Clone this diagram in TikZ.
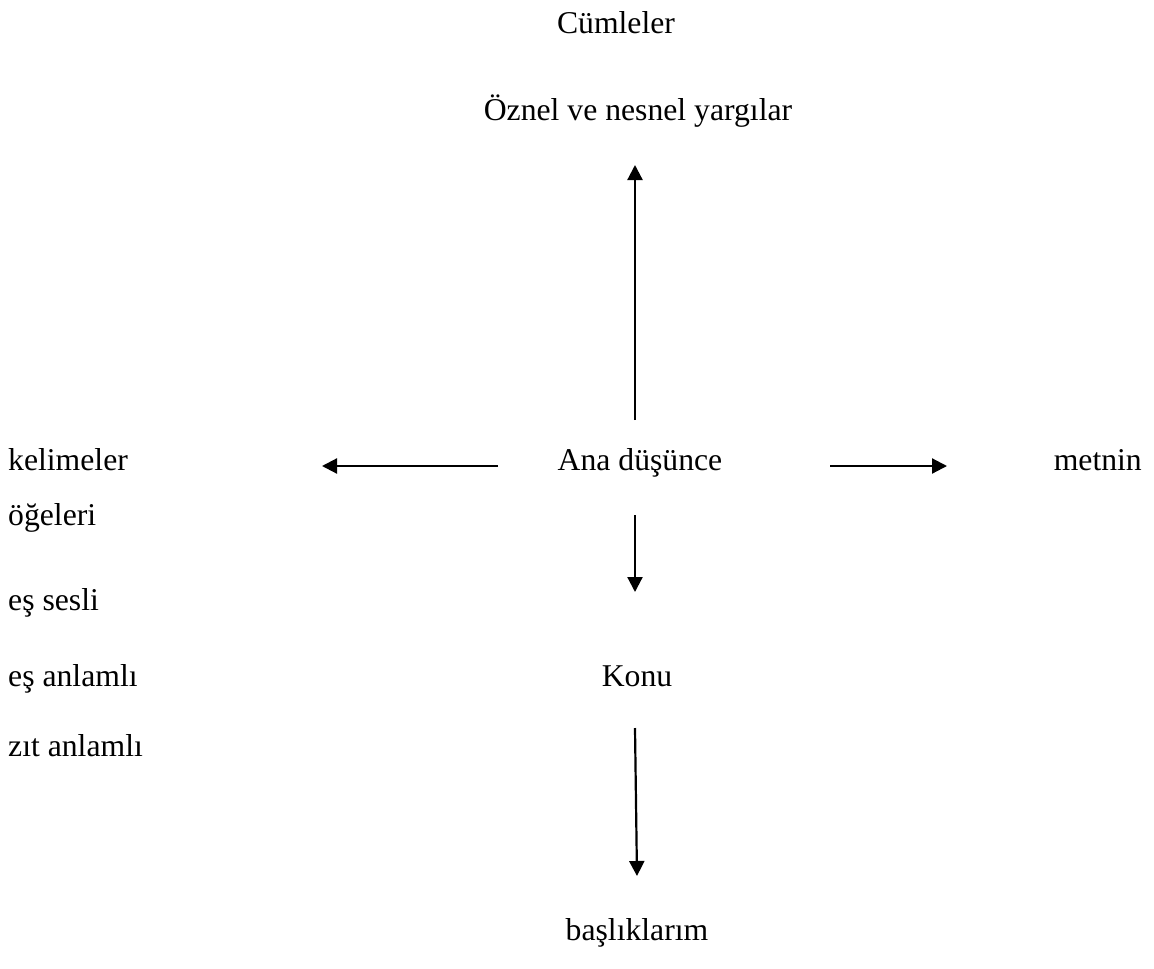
\documentclass[tikz,border=0pt]{standalone}
\usepackage{fontspec}
\setmainfont{Liberation Serif}
\usetikzlibrary{arrows.meta}
\begin{document}
\begin{tikzpicture}[x=1pt,y=-1pt,
  lbl/.style={font=\fontsize{31.7}{38}\selectfont, inner sep=0pt},
  arr/.style={line width=2.2pt, -{Triangle[length=15pt,width=15pt]}}]
\useasboundingbox (0,0) rectangle (1154,969);
\node[lbl, anchor=base] (cum) at (616,34) {Cümleler};
\node[lbl, anchor=base] (oz) at (638,120) {Öznel ve nesnel yargılar};
\node[lbl, anchor=base] (ana) at (640,470) {Ana düşünce};
\node[lbl, anchor=base west] (kel) at (8,470) {kelimeler};
\node[lbl, anchor=base west] (oge) at (8,525) {öğeleri};
\node[lbl, anchor=base west] (ess) at (8,610) {eş sesli};
\node[lbl, anchor=base west] (esa) at (8,686) {eş anlamlı};
\node[lbl, anchor=base west] (zit) at (8,756) {zıt anlamlı};
\node[lbl, anchor=base east] (met) at (1142,470) {metnin};
\node[lbl, anchor=base] (konu) at (637,686) {Konu};
\node[lbl, anchor=base] (bas) at (637,940) {başlıklarım};
\coordinate (u1) at (635,420); \coordinate (u2) at (635,165);
\coordinate (l1) at (498,466); \coordinate (l2) at (322,466);
\coordinate (r1) at (830,466); \coordinate (r2) at (947,466);
\coordinate (d1) at (635,515); \coordinate (d2) at (635,592);
\coordinate (e1) at (635,728); \coordinate (e2) at (637,876);
\draw[arr] (u1) -- (u2);
\draw[arr] (l1) -- (l2);
\draw[arr] (r1) -- (r2);
\draw[arr] (d1) -- (d2);
\draw[arr] (e1) -- (e2);
\end{tikzpicture}
\end{document}
